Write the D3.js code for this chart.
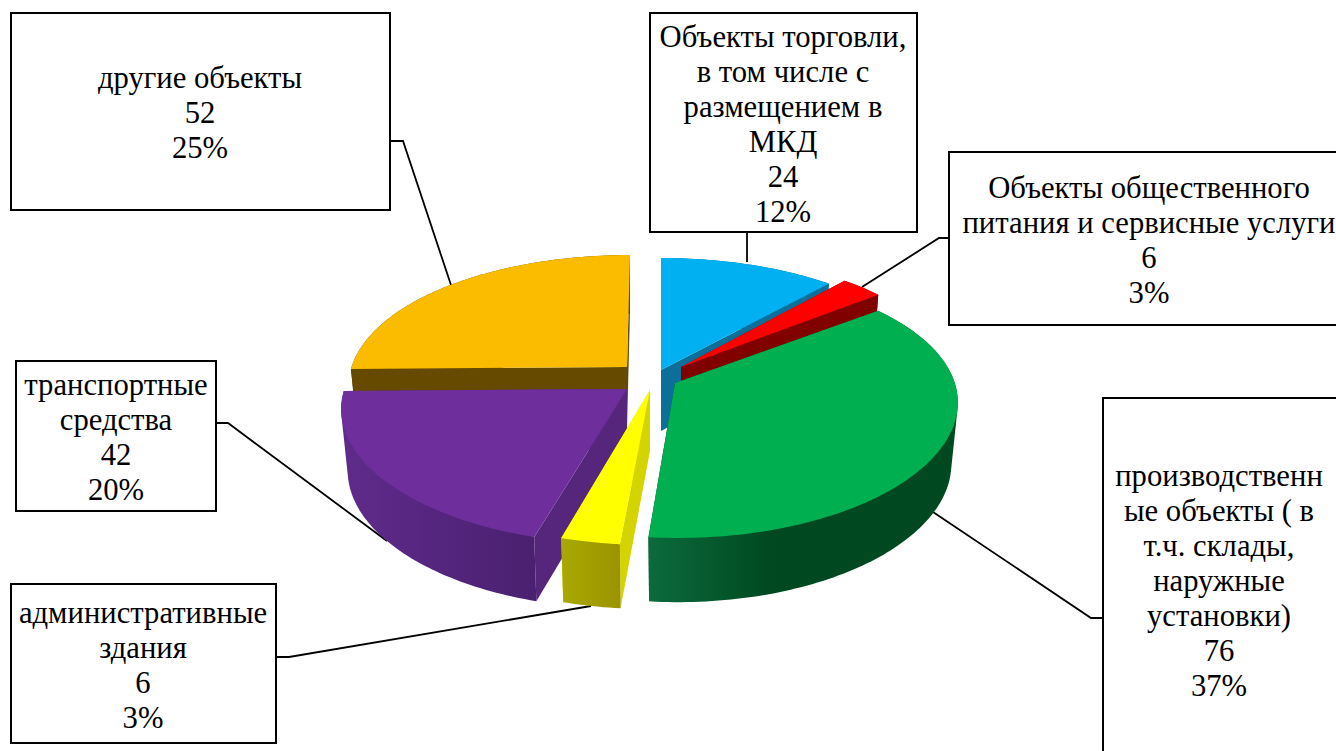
<!DOCTYPE html>
<html>
<head>
<meta charset="utf-8">
<script src="https://cdn.jsdelivr.net/npm/d3@7"></script>
<style>
  html, body { margin: 0; padding: 0; background: #fff; overflow: hidden; }
  text { font-family: "Liberation Serif", serif; font-size: 30.67px; fill: #000; }
</style>
</head>
<body>
<svg id="chart" width="1336" height="751"></svg>
<script>
// data, clockwise from 12 o'clock
const categories = [
    "Объекты торговли, в том числе с размещением в МКД",
    "Объекты общественного питания и сервисные услуги",
    "производственные объекты ( в т.ч. склады, наружные установки)",
    "административные здания",
    "транспортные средства",
    "другие объекты"
];
const values = [24, 6, 76, 6, 42, 52];
const percents = ["12%", "3%", "37%", "3%", "20%", "25%"];
const nameLines = [
    ["Объекты торговли,", "в том числе с", "размещением в", "МКД"],
    ["Объекты общественного", "питания и сервисные услуги"],
    ["производственн", "ые объекты ( в", "т.ч. склады,", "наружные", "установки)"],
    ["административные", "здания"],
    ["транспортные", "средства"],
    ["другие объекты"]
];

// styles
const topColors = ["#00b0f0", "#ff0000", "#00b050", "#ffff00", "#6e2e9c", "#fbbc00"];
const endFaceColors = ["#0b6f99", "#800000", "#004820", "#d4d400", "#55267c", "#664a00"];
const wallStops = [
    ["#0b6f99", "#0b6f99"],
    ["#800000", "#800000"],
    ["#0b6b3c", "#004820"],
    ["#a9a900", "#9b9400"],
    ["#5f2b8b", "#4a2070"],
    ["#664a00", "#664a00"]
];

// layout: exploded apex of each slice on screen, its depth scale and lean
const apexes = [[661, 370], [681, 367], [675, 383], [650, 390], [627, 389], [627, 367]];
const xScales = [0.975, 0.95, 0.985, 1, 0.995, 0.97];
const leans = [0, 0, 0.02, 0, -0.03, -0.027];
const boxes = [
    { x: 650, y: 13, w: 267, h: 219 },
    { x: 949, y: 152, w: 400, h: 173 },
    { x: 1103, y: 398, w: 250, h: 362 },
    { x: 11, y: 584, w: 265, h: 159 },
    { x: 16, y: 361, w: 200, h: 150 },
    { x: 11, y: 13, w: 379, h: 197 }
];
const textCenters = [783, 1149, 1219, 143, 116, 200];
const leaders = [
    [[747, 232], [747, 262]],
    [[949, 238], [939, 238], [862, 287]],
    [[1103, 618], [1091, 618], [933, 512]],
    [[276, 657], [289, 657], [591, 606]],
    [[216, 423], [228, 423], [387, 541]],
    [[390, 141], [403, 141], [451, 285]]
];
const lineHeight = 35;

// projection of the tilted disc, with perspective
const rx = 284, ry = 130, px = 0.138, py = 0.161, depth = 61, lowScale = 0.977;

function rim(a, i) {
    const u = Math.sin(a), v = -Math.cos(a);
    const dy = ry * v / (1 - py * v);
    return [
        apexes[i][0] + xScales[i] * rx * u / (1 - px * v) + leans[i] * dy,
        apexes[i][1] + dy
    ];
}
// the lower rim is further from the eye, so it pulls in towards the apex
function low(a, i) {
    const p = rim(a, i);
    return [
        apexes[i][0] + (p[0] - apexes[i][0]) * lowScale,
        p[1] + depth / (1 + 0.05 * Math.cos(a))
    ];
}

const svg = d3.select("#chart");
const defs = svg.append("defs");
const line = d3.line();

const pie = d3.pie().sort(null).startAngle(0).endAngle(2 * Math.PI);
const slices = pie(values).map(function (d, i) {
    const n = Math.max(2, Math.ceil((d.endAngle - d.startAngle) / 0.02));
    const angles = d3.range(n + 1).map(function (k) {
        return d.startAngle + (d.endAngle - d.startAngle) * k / n;
    });
    return { i: i, start: d.startAngle, end: d.endAngle, angles: angles };
});

// back slices first, near ones over them
const drawOrder = [5, 0, 1, 2, 4, 3];

// leaders sit under the pie
svg.append("g").selectAll("path")
    .data(leaders)
    .enter().append("path")
    .attr("d", function (d) { return line(d); })
    .attr("fill", "none")
    .attr("stroke", "#000")
    .attr("stroke-width", 1.8);

drawOrder.forEach(function (idx) {
    const s = slices[idx];
    const i = s.i;
    const g = svg.append("g").attr("class", "slice");
    const apex = apexes[i];
    const rimPts = s.angles.map(function (a) { return rim(a, i); });
    const lowPts = s.angles.map(function (a) { return low(a, i); });
    const xs = rimPts.map(function (p) { return p[0]; });

    const grad = defs.append("linearGradient")
        .attr("id", "wall" + i)
        .attr("gradientUnits", "userSpaceOnUse")
        .attr("x1", d3.min(xs)).attr("x2", d3.max(xs))
        .attr("y1", 0).attr("y2", 0);
    // the green wall reaches its darkest about halfway along
    if (i === 2) {
        grad.append("stop").attr("offset", 0).attr("stop-color", wallStops[i][0]);
        grad.append("stop").attr("offset", 0.4).attr("stop-color", wallStops[i][1]);
        grad.append("stop").attr("offset", 1).attr("stop-color", wallStops[i][1]);
    } else {
        grad.append("stop").attr("offset", 0).attr("stop-color", wallStops[i][0]);
        grad.append("stop").attr("offset", 1).attr("stop-color", wallStops[i][1]);
    }

    // radial faces
    [s.start, s.end].forEach(function (a) {
        g.append("path")
            .attr("d", line([apex, rim(a, i), low(a, i), [apex[0], apex[1] + depth]]) + "Z")
            .attr("fill", endFaceColors[i]);
    });

    // outer wall: hull of both rims, so the silhouette runs from the top rim to the lower one
    g.append("path")
        .attr("d", line(d3.polygonHull(rimPts.concat(lowPts))) + "Z")
        .attr("fill", "url(#wall" + i + ")");

    // top
    g.append("path")
        .attr("d", line([apex].concat(rimPts)) + "Z")
        .attr("fill", topColors[i]);
});

// label boxes
const label = svg.append("g").selectAll("g")
    .data(categories)
    .enter().append("g")
    .attr("class", "label");

label.append("rect")
    .attr("x", function (d, i) { return boxes[i].x; })
    .attr("y", function (d, i) { return boxes[i].y; })
    .attr("width", function (d, i) { return boxes[i].w; })
    .attr("height", function (d, i) { return boxes[i].h; })
    .attr("fill", "#fff")
    .attr("stroke", "#000")
    .attr("stroke-width", 2);

label.each(function (d, i) {
    const lines = nameLines[i].concat([String(values[i]), percents[i]]);
    const midY = boxes[i].y + boxes[i].h / 2 + 1;
    const firstY = midY - (lines.length - 1) * lineHeight / 2;
    d3.select(this).selectAll("text")
        .data(lines)
        .enter().append("text")
        .attr("x", textCenters[i])
        .attr("y", function (t, k) { return firstY + k * lineHeight; })
        .attr("dy", "0.35em")
        .attr("text-anchor", "middle")
        .text(function (t) { return t; });
});
</script>
</body>
</html>
